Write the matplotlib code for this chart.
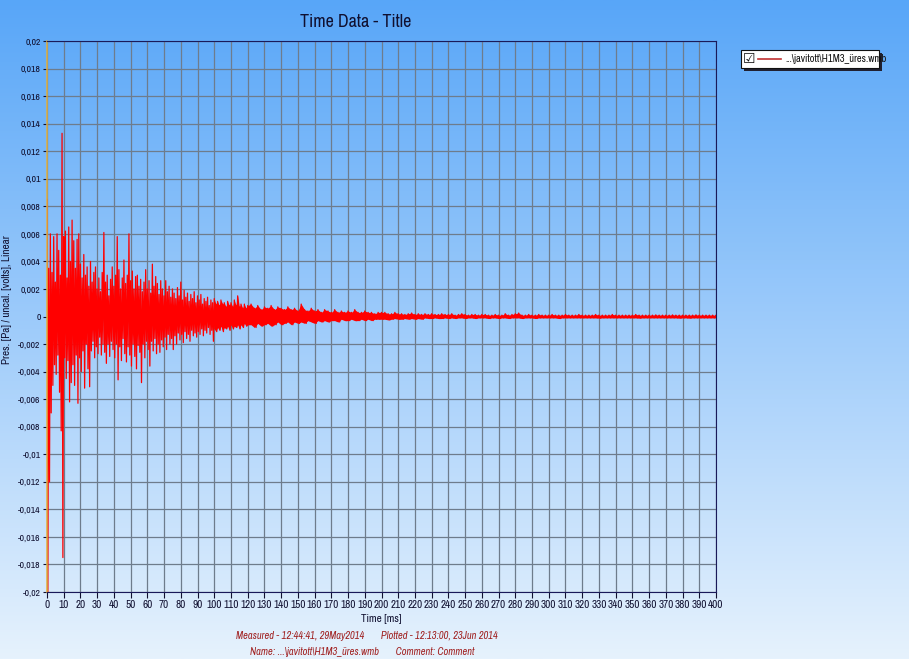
import numpy as np
import matplotlib
matplotlib.use("Agg")
import matplotlib.pyplot as plt
from matplotlib.patches import Rectangle
from matplotlib.lines import Line2D
from matplotlib.ticker import FuncFormatter, MultipleLocator

# per-ms max / min of the trace, 0..120 ms (units of 0.001)
t_early = np.arange(0, 121)
hi_early = [8.5, 3.5, 6.0, 3.2, 5.8, 2.5, 6.0, 4.8, 3.0, 13.3,
            5.8, 6.2, 2.8, 6.5, 4.0, 7.0, 5.5, 3.5, 5.6, 6.0,
            3.8, 2.8, 4.5, 3.0, 3.6, 2.2, 4.0, 2.5, 3.2, 3.6,
            2.0, 2.8, 1.8, 3.2, 6.1, 2.5, 3.0, 1.5, 2.7, 3.6,
            2.2, 3.0, 5.8, 3.4, 2.0, 2.8, 4.1, 2.4, 3.0, 6.0,
            2.6, 3.3, 2.0, 2.9, 3.0, 2.2, 2.7, 1.8, 2.5, 3.4,
            2.0, 2.6, 1.7, 3.8, 2.2, 2.9, 2.4, 1.6, 2.6, 2.0,
            1.5, 2.6, 1.8, 2.2, 1.4, 2.0, 1.7, 1.3, 2.1, 1.5,
            2.5, 1.2, 1.9, 1.4, 1.7, 1.1, 1.6, 1.3, 1.8, 1.0,
            1.5, 1.2, 1.6, 0.9, 1.3, 1.1, 1.4, 0.8, 1.2, 1.0,
            1.3, 0.9, 1.1, 0.8, 1.2, 0.9, 1.0, 0.7, 1.1, 0.8,
            1.0, 0.7, 1.2, 0.8, 1.5, 0.7, 0.9, 0.6, 0.9, 0.6,
            0.8]
lo_early = [-20.0, -12.0, -7.0, -5.0, -3.5, -4.2, -2.8, -5.5, -8.3, -17.5,
            -3.0, -4.5, -3.2, -6.2, -4.8, -3.5, -5.0, -2.8, -6.3, -3.0,
            -4.0, -2.5, -5.2, -2.0, -3.8, -5.1, -2.5, -1.8, -3.0, -2.2,
            -2.7, -1.5, -2.8, -2.0, -2.6, -3.4, -2.0, -2.9, -1.8, -2.4,
            -3.0, -2.0, -4.6, -2.2, -3.2, -1.6, -2.7, -3.3, -2.2, -2.8,
            -3.6, -2.0, -2.9, -3.8, -2.1, -2.6, -4.8, -2.0, -3.0, -1.8,
            -2.4, -3.6, -1.8, -2.5, -1.6, -2.7, -2.0, -2.6, -1.7, -2.2,
            -1.5, -2.4, -1.3, -2.0, -1.6, -2.4, -1.4, -2.0, -1.2, -1.7,
            -1.3, -1.9, -1.1, -1.6, -1.3, -1.8, -1.0, -1.4, -1.2, -1.5,
            -1.1, -1.3, -0.9, -1.4, -1.0, -1.2, -0.8, -1.3, -1.0, -1.8,
            -0.9, -1.1, -0.8, -1.0, -0.7, -1.1, -0.8, -0.9, -0.7, -1.0,
            -0.6, -0.9, -0.7, -0.8, -0.6, -0.9, -0.6, -0.8, -0.5, -0.7,
            -0.6]

# every 2 ms from 122 to 400 ms
t_late = np.arange(122, 401, 2)
hi_late = [0.9, 0.6, 0.8, 0.5, 0.7, 0.6, 0.8, 0.5, 0.7, 0.6, 0.5, 0.7, 0.5, 0.6, 0.4,
           0.9, 0.5, 0.4, 0.6, 0.4, 0.5, 0.3, 0.5, 0.4, 0.3, 0.5, 0.3, 0.4, 0.3, 0.4,
           0.3, 0.5, 0.3, 0.3, 0.4, 0.3, 0.3, 0.2, 0.3, 0.3,
           0.3, 0.2, 0.2, 0.3, 0.2, 0.2, 0.15, 0.2, 0.25, 0.15, 0.2, 0.15, 0.2, 0.15, 0.2,
           0.15, 0.15, 0.2, 0.15, 0.15, 0.2, 0.1, 0.15, 0.2, 0.15, 0.1, 0.15, 0.15, 0.1, 0.15,
           0.15, 0.1, 0.1, 0.15, 0.1, 0.1, 0.2, 0.1, 0.15, 0.2,
           0.25, 0.1, 0.1, 0.15, 0.1, 0.1, 0.15, 0.1, 0.1, 0.1,
           0.15, 0.1, 0.1, 0.1, 0.15, 0.1, 0.1, 0.1, 0.15, 0.1,
           0.1, 0.1, 0.1, 0.15, 0.1, 0.1, 0.1, 0.1, 0.15, 0.1,
           0.1, 0.1, 0.1, 0.1, 0.1, 0.15, 0.1, 0.1, 0.1, 0.1,
           0.1, 0.12, 0.1, 0.1, 0.1, 0.1, 0.12, 0.1, 0.1, 0.1,
           0.1, 0.1, 0.1, 0.12, 0.1, 0.1, 0.1, 0.1, 0.1, 0.1]
lo_late = [-0.6, -0.8, -0.5, -0.7, -0.6, -0.5, -0.7, -0.6, -0.4, -0.6, -0.5, -0.4, -0.6, -0.4, -0.5,
           -0.4, -0.5, -0.3, -0.4, -0.5, -0.3, -0.4, -0.3, -0.4, -0.3, -0.3, -0.4, -0.2, -0.3, -0.3,
           -0.2, -0.3, -0.3, -0.2, -0.3, -0.2, -0.3, -0.2, -0.2, -0.2,
           -0.2, -0.25, -0.2, -0.15, -0.2, -0.2, -0.15, -0.2, -0.15, -0.2, -0.15, -0.2, -0.1, -0.15, -0.15,
           -0.1, -0.15, -0.15, -0.1, -0.15, -0.1, -0.15, -0.1, -0.1, -0.15, -0.1, -0.1, -0.15, -0.1, -0.1,
           -0.1, -0.15, -0.1, -0.1, -0.15, -0.1, -0.1, -0.15, -0.1, -0.1,
           -0.1, -0.15, -0.1, -0.1, -0.1, -0.15, -0.1, -0.1, -0.1, -0.1,
           -0.1, -0.1, -0.15, -0.1, -0.1, -0.1, -0.1, -0.1, -0.1, -0.1,
           -0.1, -0.1, -0.1, -0.1, -0.12, -0.1, -0.1, -0.1, -0.1, -0.1,
           -0.1, -0.1, -0.1, -0.1, -0.1, -0.1, -0.12, -0.1, -0.1, -0.1,
           -0.1, -0.1, -0.1, -0.1, -0.1, -0.1, -0.1, -0.1, -0.12, -0.1,
           -0.1, -0.12, -0.1, -0.1, -0.1, -0.1, -0.1, -0.1, -0.1, -0.1]

title = "Time Data - Title"
x_label = "Time [ms]"
y_label = "Pres. [Pa] / uncal. [volts], Linear"
trace_name = "...\\javitott\\H1M3_üres.wmb"
footer1 = "Measured - 12:44:41, 29May2014       Plotted - 12:13:00, 23Jun 2014"
footer2 = "Name: ...\\javitott\\H1M3_üres.wmb       Comment: Comment"

plt.rcParams["font.family"] = ["Liberation Sans Narrow", "Archivo Narrow", "Liberation Sans", "DejaVu Sans"]

t_all = np.concatenate([t_early, t_late])
hi_all = np.concatenate([hi_early, hi_late]) * 1e-3
lo_all = np.concatenate([lo_early, lo_late]) * 1e-3

# zigzag max/min so the dense trace fills like the original
x = np.concatenate([np.column_stack([t_early, t_early + 0.5]).ravel(),
                    np.column_stack([t_late, t_late + 1.0]).ravel()])
y = np.concatenate([np.column_stack([hi_early, lo_early]).ravel(),
                    np.column_stack([hi_late, lo_late]).ravel()]) * 1e-3

fig = plt.figure(figsize=(9.09, 6.59), dpi=100)

# gradient background
bg = fig.add_axes([0, 0, 1, 1], zorder=-10)
grad = np.linspace(0, 1, 256).reshape(-1, 1)
top_c = np.array([0x58, 0xa6, 0xf8]) / 255
bot_c = np.array([0xe6, 0xf2, 0xfd]) / 255
img = top_c[None, None, :] * (1 - grad[:, :, None]) + bot_c[None, None, :] * grad[:, :, None]
bg.imshow(img, aspect="auto", extent=[0, 1, 0, 1])
bg.axis("off")

ax = fig.add_axes([47 / 909, 1 - 592 / 659, 669 / 909, 551 / 659])
ax.patch.set_alpha(0)
ax.fill_between(t_all, lo_all, hi_all, where=t_all >= 100, color="#ff0000", lw=0)
ax.plot(x, y, color="#ff0000", lw=0.9)

ax.set_xlim(0, 400)
ax.set_ylim(-0.02, 0.02)
ax.xaxis.set_major_locator(MultipleLocator(10))
ax.yaxis.set_major_locator(MultipleLocator(0.002))


def comma_fmt(v, pos):
    s = ("%.3f" % v).rstrip("0").rstrip(".")
    if s == "-0":
        s = "0"
    return s.replace(".", ",")


ax.yaxis.set_major_formatter(FuncFormatter(comma_fmt))
ax.grid(True, color="#6e7c8c", lw=0.9)
ax.set_axisbelow(True)
ax.tick_params(labelsize=8, colors="#101030", length=4, width=0.8, pad=2)
ax.tick_params(axis="y", labelsize=7, pad=1.5, length=3)

for side in ["top", "right", "bottom"]:
    ax.spines[side].set_color("#1a1a5a")
ax.spines["left"].set_color("#e0b040")
ax.spines["left"].set_linewidth(1.1)

ax.set_xlabel(x_label, fontsize=8, color="#101030", labelpad=3)
ax.set_ylabel(y_label, fontsize=8, color="#101030")
ax.yaxis.set_label_coords(-0.052, 0.53)
fig.text(356 / 909, 1 - 22 / 659, title, fontsize=13, ha="center", va="center", color="#101030")

fig.text(367 / 909, 1 - 636 / 659, footer1, fontsize=7.5, style="italic", color="#a02020",
         ha="center", va="center")
fig.text(362 / 909, 1 - 652 / 659, footer2, fontsize=7.5, style="italic", color="#a02020",
         ha="center", va="center")

# legend box with shadow and checkbox
lx0, ly0, lw, lh = 741 / 909, 1 - 68 / 659, 138 / 909, 18 / 659
fig.patches.append(Rectangle((lx0 + 3 / 909, ly0 - 3 / 659), lw, lh, transform=fig.transFigure,
                             facecolor="#202030", edgecolor="none"))
fig.patches.append(Rectangle((lx0, ly0), lw, lh, transform=fig.transFigure,
                             facecolor="white", edgecolor="#101010", lw=0.8))
fig.text(749 / 909, 1 - 59 / 659, "☑", fontsize=10, family="DejaVu Sans",
         ha="center", va="center", color="#101010")
fig.lines.append(Line2D([758 / 909, 781 / 909], [1 - 59 / 659] * 2, transform=fig.transFigure,
                        color="#c03030", lw=1.2))
fig.text(785 / 909, 1 - 59 / 659, trace_name, fontsize=7.5, ha="left", va="center", color="#101010")

fig.savefig("out.png", dpi=100)
